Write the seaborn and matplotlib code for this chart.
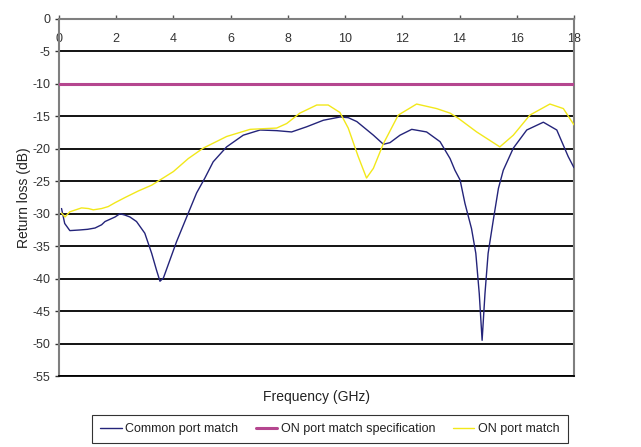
import pandas as pd
import matplotlib
matplotlib.use("Agg")
import matplotlib.pyplot as plt
import seaborn as sns

# === datos ===
freq_common = [0.09, 0.2, 0.38, 0.73, 1.0, 1.26, 1.49, 1.61, 1.96, 2.13, 2.3, 2.48,
               2.71, 3.0, 3.24, 3.41, 3.53, 3.65, 3.88, 4.11, 4.52, 4.81, 5.10, 5.39,
               5.86, 6.44, 7.03, 7.61, 8.13, 8.66, 9.24, 9.82, 10.11, 10.41, 10.99,
               11.34, 11.57, 11.92, 12.33, 12.85, 13.32, 13.67, 13.84, 14.02, 14.19,
               14.42, 14.57, 14.69, 14.79, 14.89, 15.0, 15.18, 15.36, 15.53, 15.88,
               16.35, 16.93, 17.40, 17.80, 18.0]
rl_common = [-29.2, -31.5, -32.6, -32.5, -32.4, -32.2, -31.7, -31.2, -30.5, -30.0, -30.2,
             -30.5, -31.2, -33.0, -36.1, -38.7, -40.4, -39.9, -37.1, -34.3, -29.9, -26.8,
             -24.5, -22.0, -19.7, -17.9, -17.1, -17.2, -17.4, -16.6, -15.6, -15.1, -15.2,
             -15.8, -17.9, -19.3, -19.05, -17.9, -17.0, -17.4, -18.9, -21.5, -23.3, -24.8,
             -28.4, -32.3, -36.1, -42.3, -49.5, -42.3, -36.1, -31.0, -26.1, -23.3, -19.9,
             -17.1, -15.9, -17.1, -21.2, -22.9]

freq_on = [0.09, 0.21, 0.38, 0.79, 1.03, 1.2, 1.49, 1.72, 1.96, 2.31, 2.77, 3.24, 3.53,
           4.0, 4.52, 5.04, 5.86, 6.68, 7.61, 7.96, 8.42, 9.01, 9.41, 9.82, 10.11, 10.46,
           10.75, 10.99, 11.34, 11.86, 12.50, 13.20, 13.67, 13.96, 14.60, 15.41, 15.88,
           16.46, 17.16, 17.63, 18.0]
rl_on = [-29.9, -30.5, -29.7, -29.1, -29.2, -29.4, -29.2, -28.9, -28.3, -27.5, -26.5,
         -25.6, -24.8, -23.5, -21.5, -19.9, -18.1, -17.0, -16.8, -16.1, -14.5, -13.25,
         -13.25, -14.4, -16.8, -21.2, -24.5, -23.0, -19.2, -14.8, -13.1, -13.8, -14.5,
         -15.3, -17.4, -19.7, -17.9, -14.8, -13.1, -13.8, -16.3]

freq_spec = [0, 18]
rl_spec = [-10, -10]

series = ["Common port match", "ON port match specification", "ON port match"]
colores = ["#24247a", "#b5468f", "#f2e81a"]
anchos = [1.0, 2.2, 1.0]

xticks = [0, 2, 4, 6, 8, 10, 12, 14, 16, 18]
yticks = [0, -5, -10, -15, -20, -25, -30, -35, -40, -45, -50, -55]

# === tabla larga para seaborn ===
df = pd.concat([
    pd.DataFrame({"f": freq_common, "rl": rl_common, "serie": series[0]}),
    pd.DataFrame({"f": freq_spec, "rl": rl_spec, "serie": series[1]}),
    pd.DataFrame({"f": freq_on, "rl": rl_on, "serie": series[2]}),
], ignore_index=True)

sns.set_style("white")
plt.rcParams["font.family"] = ["Liberation Sans", "DejaVu Sans"]

fig = plt.figure(figsize=(6.41, 4.47), dpi=100)
ax = fig.add_axes([0.092, 0.1588, 0.8034, 0.7987])

for nombre, color, lw in zip(series, colores, anchos):
    sub = df[df["serie"] == nombre]
    sns.lineplot(data=sub, x="f", y="rl", color=color, linewidth=lw, sort=False,
                 estimator=None, ax=ax, label=nombre, zorder=3)

ax.set_xlim(0, 18)
ax.set_ylim(-55, 0)
ax.set_yticks(yticks)
ax.set_yticklabels([str(v) for v in yticks])
ax.set_xticks(xticks)
ax.set_xticklabels([str(v) for v in xticks])

ax.yaxis.grid(True, color="black", linewidth=1.3)
ax.xaxis.grid(False)
ax.set_axisbelow(True)

for lado in ["left", "right", "top"]:
    ax.spines[lado].set_color("#7f7f7f")
    ax.spines[lado].set_linewidth(1.5)
ax.spines["bottom"].set_color("black")
ax.spines["bottom"].set_linewidth(1.3)

ax.xaxis.tick_top()
ax.tick_params(axis="x", top=True, bottom=False, labeltop=True, labelbottom=False,
               direction="out", length=3, width=1, color="#555555", pad=-22,
               labelsize=9, labelcolor="#333333")
ax.tick_params(axis="y", left=True, direction="out", length=3, width=1,
               color="#333333", labelsize=9, labelcolor="#333333", pad=3)

ax.set_xlabel("Frequency (GHz)", fontsize=10, color="#222222")
ax.xaxis.set_label_position("bottom")
ax.xaxis.labelpad = 10
ax.set_ylabel("Return loss (dB)", fontsize=10, color="#222222", labelpad=1)

ax.get_legend().remove()
handles, labels = ax.get_legend_handles_labels()
leg = fig.legend(handles, labels, loc="center", bbox_to_anchor=(0.515, 0.04), ncol=3,
                 frameon=True, fancybox=False, edgecolor="black", fontsize=9,
                 handlelength=1.7, handletextpad=0.3, columnspacing=1.4,
                 borderpad=0.65, borderaxespad=0)
leg.get_frame().set_linewidth(0.8)
for t in leg.get_texts():
    t.set_color("#222222")

fig.savefig("out.png", dpi=100)
